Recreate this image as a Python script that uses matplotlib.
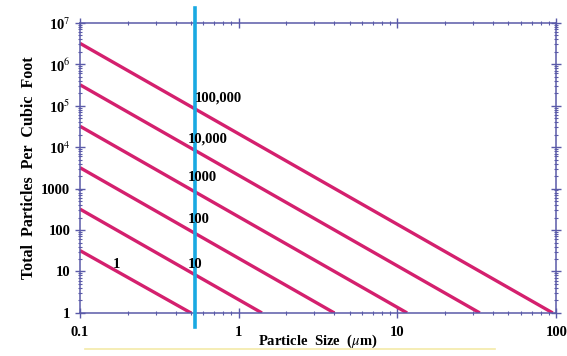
import matplotlib

matplotlib.use("Agg")
import matplotlib.pyplot as plt
import numpy as np
from matplotlib.ticker import FixedLocator, LogLocator, NullFormatter

# cleanroom class lines: count at 0.1 um and size where count reaches 1
class_names = ["1", "10", "100", "1000", "10,000", "100,000"]
count_at_start = [32, 320, 3200, 32000, 320000, 3200000]
size_at_end = [0.5, 1.4, 4.0, 11.5, 33, 95]
start_size = 0.1
end_count = 1

# label positions
label_x = [0.16, 0.48, 0.48, 0.48, 0.48, 0.53]
label_y = [15, 15, 180, 1860, 16000, 155000]

ref_size = 0.53  # vertical marker line (um)

y_ticks = [1, 10, 100, 1000, 1e4, 1e5, 1e6, 1e7]
y_ticklabels = ["1", "10", "100", "1000", r"10$^{4}$", r"10$^{5}$", r"10$^{6}$", r"10$^{7}$"]
x_ticks = [0.1, 1, 10, 100]
x_ticklabels = ["0.1", "1", "10", "100"]

LINE_COLOR = "#d4206e"
AXIS_COLOR = "#5a5aa8"
plt.rcParams["font.family"] = ["Liberation Serif", "DejaVu Serif"]
plt.rcParams["mathtext.fontset"] = "stix"

fig = plt.figure(figsize=(5.67, 3.56), dpi=100)
ax = fig.add_axes([0.141, 0.121, 0.84, 0.815])

for c0, x1 in zip(count_at_start, size_at_end):
    ax.plot([start_size, x1], [c0, end_count], color=LINE_COLOR, lw=2.4, solid_capstyle="butt")

for name, lx, ly in zip(class_names, label_x, label_y):
    ax.text(lx, ly, name, fontsize=10.5, fontweight="bold", ha="left", va="center", zorder=5)

ax.axvline(ref_size, ymin=-0.05, ymax=1.05, color="#19a9e2", lw=2.6, clip_on=False, zorder=4)

ax.set_xscale("log")
ax.set_yscale("log")
ax.set_xlim(0.1, 100)
ax.set_ylim(1, 1e7)

ax.xaxis.set_major_locator(FixedLocator(x_ticks))
ax.set_xticklabels(x_ticklabels)
ax.yaxis.set_major_locator(FixedLocator(y_ticks))
ax.set_yticklabels(y_ticklabels)
ax.xaxis.set_minor_locator(LogLocator(base=10, subs=np.arange(2, 10)))
ax.yaxis.set_minor_locator(LogLocator(base=10, subs=np.arange(2, 10)))
ax.xaxis.set_minor_formatter(NullFormatter())
ax.yaxis.set_minor_formatter(NullFormatter())

ax.tick_params(which="both", direction="inout", color=AXIS_COLOR, top=True, right=True,
               labelsize=10.5)
ax.tick_params(which="major", length=7, width=1)
ax.tick_params(which="minor", length=3.5, width=0.8)
ax.tick_params(axis="x", pad=6)
for lab in ax.get_xticklabels() + ax.get_yticklabels():
    lab.set_fontweight("bold")
for sp in ax.spines.values():
    sp.set_color(AXIS_COLOR)
    sp.set_linewidth(1.1)

ax.set_xlabel(r"Particle  Size  ($\mu$m)", fontsize=10.5, fontweight="bold", labelpad=-5)
ax.set_ylabel("Total  Particles  Per  Cubic  Foot", fontsize=11.5, fontweight="bold", labelpad=3)

# faint yellow edge along the bottom of the image
fig.lines.append(plt.Line2D([0.15, 0.873], [0.02, 0.02], transform=fig.transFigure,
                            color="#f3eaa8", lw=1.2))

fig.savefig("out.png", dpi=100)
plt.close(fig)
